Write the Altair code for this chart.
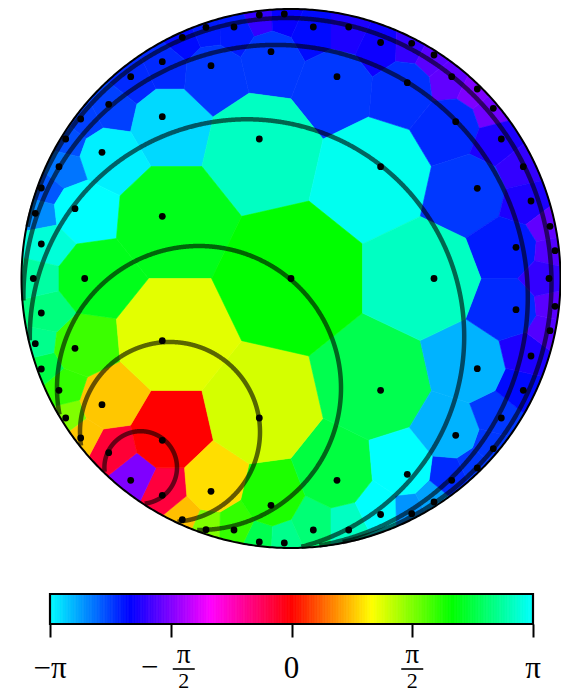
import math
import numpy as np
import pandas as pd
import altair as alt

PI = math.pi
R = 269.5  # disk radius (data units)

# ---- Voronoi sites: upper half (mirrored to lower half), plus sites on the axis
up_x = [-108.7, -128.7, -160.3, -182.3, -128.7, -210.3, -225.3, -189, -232, -249.7,
        -31.7, -6.7, -85, -57, 22.3, 57.7, 89.6, -20, -80, 46,
        -31.7, 89.6, 120.7, 143, 160.7, 116.3, 186.3, 202.3, 164.7, 210.3,
        232.3, 186.3, -255.7, -216, -128.7, -249.7, 240, 259, 225, 264]
up_y = [241.2, 216.8, 201.8, 174.2, 161.8, 159.5, 139.5, 126.2, 111.8, 90.5,
        263.5, 264.5, 251.2, 251.5, 251.5, 251.5, 236, 226.8, 212.8, 201.8,
        139.5, 111.8, 235.2, 223.5, 201.8, 195.8, 189.5, 170.2, 156.8, 139.5,
        111.8, 90.2, 65.2, 69.8, 62.2, 34.5, 77.5, 52.2, 31.2, 27.8]
# phases in units of pi
up_phase = [-0.68, -0.72, -0.72, -0.75, -0.95, -0.75, -0.77, -0.98, -0.82, -0.78,
            -0.60, -0.66, -0.70, -0.70, -0.68, -0.63, -0.65, -0.74, -0.74, -0.74,
            0.92, 0.98, -0.60, -0.55, -0.54, -0.73, -0.50, -0.52, -0.72, -0.63,
            -0.60, -0.74, -0.85, 1.0, 0.70, 0.95, -0.63, -0.54, -0.70, -0.56]
low_phase = [0.25, -0.08, -0.50, -0.07, 0.0, 0.26, 0.50, 0.26, 0.60, 0.76,
             0.77, 0.85, 0.50, 0.60, 0.82, 0.92, 1.0, 0.63, 0.29, 0.75,
             0.39, 0.77, -0.86, -0.88, -0.72, 1.0, -0.74, -0.74, -0.90, -0.74,
             -0.68, -0.90, 0.85, 0.59, 0.37, 0.83, -0.63, -0.56, -0.72, -0.55]
axis_x = [-257.7, -206.3, 0.0, 143.0, 258.0]
axis_phase = [0.88, 0.70, 0.667, 0.92, -0.60]

# ---- circles (centre x, centre y, radius)
circ_x = [-150.3, -121.0, -92.0, -44.0, -15.4, -4.5]
circ_y = [-189.0, -153.5, -109.5, -58.0, -18.6, -4.5]
circ_r = [36.3, 90.0, 142.0, 217.2, 252.2, 265.0]

# ---- colour bar ticks
tick_vals = [-PI, -PI / 2, 0.0, PI / 2, PI]

# ---------------------------------------------------------------
sx = list(up_x) + list(up_x) + list(axis_x)
sy = list(up_y) + [-v for v in up_y] + [0.0] * len(axis_x)
sp = [p * PI for p in list(up_phase) + list(low_phase) + list(axis_phase)]
sites = pd.DataFrame({"X": sx, "Y": sy, "phase": sp})

ang = np.linspace(0, 2 * np.pi, 361)[:-1]
disk_poly = [(R * math.cos(a), R * math.sin(a)) for a in ang]


def clip(poly, a0, a1, b):
    out = []
    n = len(poly)
    for i in range(n):
        P = poly[i]
        Q = poly[(i + 1) % n]
        dp = P[0] * a0 + P[1] * a1 - b
        dq = Q[0] * a0 + Q[1] * a1 - b
        if dp <= 0:
            out.append(P)
        if (dp <= 0) != (dq <= 0):
            t = dp / (dp - dq)
            out.append((P[0] + t * (Q[0] - P[0]), P[1] + t * (Q[1] - P[1])))
    return out


features = []
for i in range(len(sx)):
    poly = disk_poly
    xi, yi = sx[i], sy[i]
    for j in range(len(sx)):
        if j == i:
            continue
        xj, yj = sx[j], sy[j]
        poly = clip(poly, xj - xi, yj - yi, (xj * xj + yj * yj - xi * xi - yi * yi) / 2)
        if not poly:
            break
    if len(poly) < 3:
        continue
    ring = [[float(p[0]), float(p[1])] for p in poly]
    ring.append(ring[0])
    features.append({"type": "Feature", "properties": {"phase": sp[i]},
                     "geometry": {"type": "Polygon", "coordinates": [ring]}})

# circles clipped to the disk
circ_feats = []
tt = np.linspace(0, 2 * np.pi, 1441)
for cx, cy, r in zip(circ_x, circ_y, circ_r):
    px = cx + r * np.cos(tt)
    py = cy + r * np.sin(tt)
    inside = px ** 2 + py ** 2 <= (R - 1) ** 2
    lines = []
    cur = []
    if inside.all():
        lines = [[[float(a), float(b)] for a, b in zip(px, py)]]
    else:
        k0 = int(np.argmin(inside))
        idx = list(range(k0, len(tt) - 1)) + list(range(0, k0 + 1))
        for k in idx:
            if inside[k]:
                cur.append([float(px[k]), float(py[k])])
            else:
                if len(cur) > 1:
                    lines.append(cur)
                cur = []
        if len(cur) > 1:
            lines.append(cur)
    circ_feats.append({"type": "Feature", "properties": {},
                       "geometry": {"type": "MultiLineString", "coordinates": lines}})

rim = [[float(R * math.cos(a)), float(R * math.sin(a))] for a in np.linspace(0, 2 * np.pi, 721)]
rim_feat = [{"type": "Feature", "properties": {},
             "geometry": {"type": "LineString", "coordinates": rim}}]

proj = dict(type="identity", reflectY=True, scale=1, translate=[283, 270.5])

cdomain = [-PI, -2 * PI / 3, -PI / 3, 0, PI / 3, 2 * PI / 3, PI]
crange = ["#00ffff", "#0000ff", "#ff00ff", "#ff0000", "#ffff00", "#00ff00", "#00ffff"]
cscale = alt.Scale(domain=cdomain, range=crange, interpolate="rgb")

cells = alt.Chart(alt.Data(values=features)).mark_geoshape(strokeWidth=0.6).encode(
    fill=alt.Fill("properties.phase:Q", scale=cscale, legend=None),
    stroke=alt.Stroke("properties.phase:Q", scale=cscale, legend=None),
).project(**proj)

circles = alt.Chart(alt.Data(values=circ_feats)).mark_geoshape(
    filled=False, fill=None, stroke="black", strokeWidth=4.5, strokeOpacity=0.6
).project(**proj)

rim_layer = alt.Chart(alt.Data(values=rim_feat)).mark_geoshape(
    filled=False, fill=None, stroke="black", strokeWidth=2
).project(**proj)

dots = alt.Chart(sites).mark_circle(size=46, color="black", opacity=1).encode(
    longitude="X:Q", latitude="Y:Q"
).project(**proj)

top = alt.layer(cells, circles, rim_layer, dots).properties(width=553, height=548)

# ---- colour bar
nb = 300
edges = np.linspace(-PI, PI, nb + 1)
cb = pd.DataFrame({"a": edges[:-1], "b": edges[1:], "m": (edges[:-1] + edges[1:]) / 2})
xsc = alt.Scale(domain=[-PI, PI], range=[42, 525], nice=False, zero=False)

bar = alt.Chart(cb).mark_rect(strokeWidth=0.8).encode(
    x=alt.X("a:Q", scale=xsc, axis=alt.Axis(values=tick_vals, labels=False, title=None,
                                            tickSize=13, tickWidth=2, tickColor="black",
                                            domain=False, grid=False)),
    x2="b:Q",
    fill=alt.Fill("m:Q", scale=cscale, legend=None),
    stroke=alt.Stroke("m:Q", scale=cscale, legend=None),
)
frame = alt.Chart(pd.DataFrame({"a": [-PI], "b": [PI]})).mark_rect(
    fill=None, filled=False, stroke="black", strokeWidth=2.2
).encode(x=alt.X("a:Q", scale=xsc), x2="b:Q")

FONT = "Liberation Serif"
lab_df = pd.DataFrame({"v": [-PI, 0.0, PI], "t": ["−π", "0", "π"]})
labels = alt.Chart(lab_df).mark_text(font=FONT, fontSize=31, color="black",
                                     baseline="middle", align="center").encode(
    x=alt.X("v:Q", scale=xsc), y=alt.value(75), text="t:N")

frac_df = pd.DataFrame({"v": [-PI / 2, PI / 2]})
num_n = alt.Chart(frac_df.iloc[[0]]).mark_text(font=FONT, fontSize=27, dx=13,
                                               baseline="middle", color="black").encode(
    x=alt.X("v:Q", scale=xsc), y=alt.value(61), text=alt.value("π"))
den_n = alt.Chart(frac_df.iloc[[0]]).mark_text(font=FONT, fontSize=22, dx=13,
                                               baseline="middle", color="black").encode(
    x=alt.X("v:Q", scale=xsc), y=alt.value(87), text=alt.value("2"))
minus_n = alt.Chart(frac_df.iloc[[0]]).mark_text(font=FONT, fontSize=31, dx=-21,
                                                 baseline="middle", color="black").encode(
    x=alt.X("v:Q", scale=xsc), y=alt.value(74), text=alt.value("−"))
bar_n = alt.Chart(frac_df.iloc[[0]]).mark_rule(color="black", strokeWidth=1.6,
                                               xOffset=2, x2Offset=24).encode(
    x=alt.X("v:Q", scale=xsc), x2="v:Q", y=alt.value(75))
num_p = alt.Chart(frac_df.iloc[[1]]).mark_text(font=FONT, fontSize=27,
                                               baseline="middle", color="black").encode(
    x=alt.X("v:Q", scale=xsc), y=alt.value(61), text=alt.value("π"))
den_p = alt.Chart(frac_df.iloc[[1]]).mark_text(font=FONT, fontSize=22,
                                               baseline="middle", color="black").encode(
    x=alt.X("v:Q", scale=xsc), y=alt.value(87), text=alt.value("2"))
bar_p = alt.Chart(frac_df.iloc[[1]]).mark_rule(color="black", strokeWidth=1.6,
                                               xOffset=-11, x2Offset=11).encode(
    x=alt.X("v:Q", scale=xsc), x2="v:Q", y=alt.value(75))

colorbar = alt.layer(bar, frame, labels, num_n, den_n, minus_n, bar_n, num_p, den_p, bar_p
                     ).properties(width=553, height=30)

chart = alt.vconcat(top, colorbar, spacing=36).properties(padding=0).configure_view(strokeWidth=0)

chart.save("out.html", embed_options={"renderer": "svg", "actions": False})
